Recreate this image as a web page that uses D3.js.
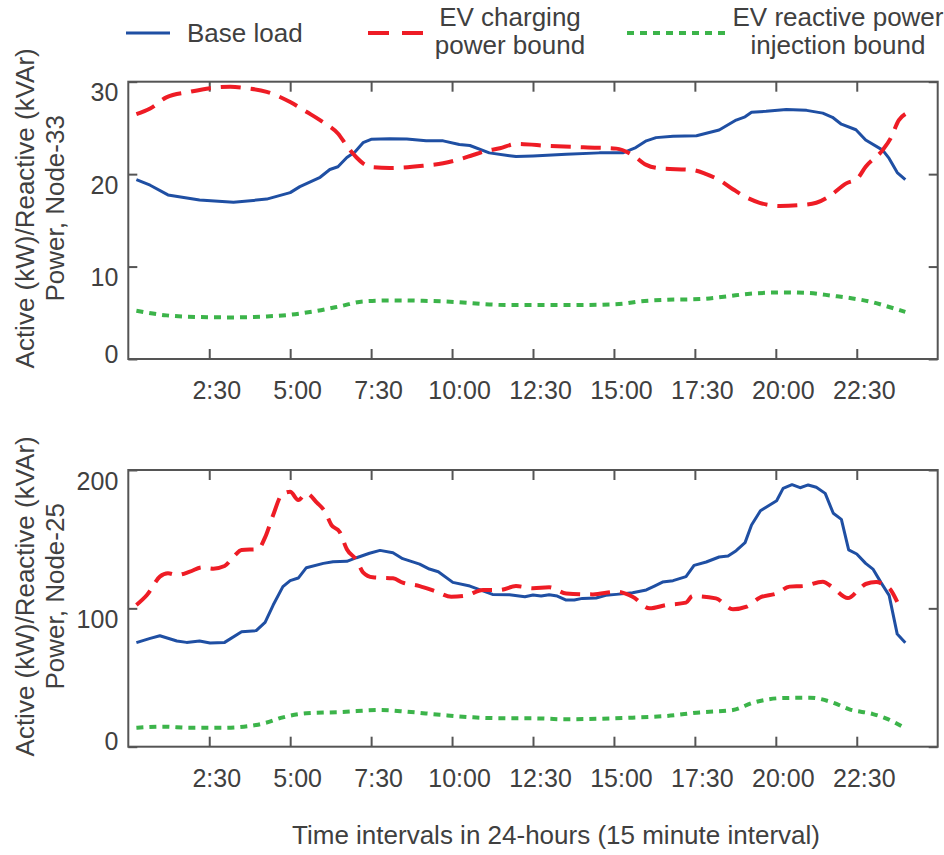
<!DOCTYPE html>
<html>
<head>
<meta charset="utf-8">
<script src="https://cdn.jsdelivr.net/npm/d3@7"></script>
<style>
  body { margin: 0; background: #fff; }
  svg { display: block; font-family: "Liberation Sans", Arial, sans-serif; }
  .tick line { stroke: #555; stroke-width: 2; }
  .tick text { fill: #404040; font-size: 25px; }
</style>
</head>
<body>
<svg id="chart" width="944" height="855"></svg>
<script>
// time axis: 15-minute interval index (1..96)
const xTickValues = [10, 20, 30, 40, 50, 60, 70, 80, 90];
const xTickLabels = ['2:30', '5:00', '7:30', '10:00', '12:30', '15:00', '17:30', '20:00', '22:30'];

const legendLabels = [['Base load'], ['EV charging', 'power bound'], ['EV reactive power', 'injection bound']];

// Node-33 (top panel), [interval, value]
const node33Base = [[1, 19.4], [2.7, 18.8], [4.9, 17.75], [8.8, 17.2], [13, 16.95], [17.1, 17.3], [20, 18.0],
  [21.2, 18.65], [23.7, 19.66], [24.9, 20.5], [25.9, 20.8], [27, 21.8], [28, 22.4], [29, 23.4], [30, 23.77],
  [32.3, 23.84], [34.4, 23.8], [36.8, 23.6], [38.9, 23.6], [40.9, 23.2], [42.2, 23.1], [44.6, 22.3], [47.1, 22.0],
  [47.9, 21.9], [50, 21.97], [54.1, 22.15], [58.2, 22.3], [61.1, 22.3], [62.7, 22.87], [64, 23.6], [65.2, 23.95],
  [67.3, 24.1], [70.2, 24.16], [73, 24.77], [75.1, 25.85], [76.2, 26.2], [77, 26.7], [78.8, 26.8], [81.3, 27.0],
  [83.8, 26.9], [85.8, 26.6], [87, 26.15], [88.1, 25.4], [89.9, 24.8], [91.1, 23.7], [93.2, 22.6], [94, 21.7],
  [95, 20.17], [96, 19.4]];
const node33Charging = [[1, 26.5], [2.7, 27.1], [4.7, 28.3], [7.6, 28.9], [10.1, 29.3], [12.6, 29.45], [14.6, 29.3],
  [17.1, 28.9], [20, 27.8], [22, 26.75], [24.1, 25.6], [25.9, 24.4], [27.2, 22.8], [28.2, 21.8], [29, 21.17],
  [30.2, 20.74], [32.3, 20.67], [36.4, 20.9], [38.9, 21.17], [40.9, 21.6], [42.6, 22.07], [44.2, 22.5], [45.9, 22.8],
  [47.9, 23.26], [52, 23.05], [56.2, 22.9], [60.3, 22.76], [62.3, 22.07], [64, 21.0], [65.6, 20.63], [69.7, 20.45],
  [71.4, 20.0], [73, 19.37], [74.7, 18.37], [76.4, 17.47], [78, 16.9], [80.5, 16.56], [82.9, 16.64], [85, 16.9],
  [86.6, 17.6], [88.7, 19.0], [90.1, 19.55], [91.1, 20.8], [93.2, 22.6], [94.2, 23.9], [95.2, 25.85], [96, 26.5]];
const node33Reactive = [[1, 5.22], [4.7, 4.72], [8.8, 4.54], [12.9, 4.5], [17.1, 4.6], [20, 4.79], [23.2, 5.19],
  [26.1, 5.69], [29, 6.23], [32.3, 6.34], [36.4, 6.3], [40.5, 6.16], [44.6, 5.9], [47.1, 5.83], [50, 5.83],
  [54.1, 5.83], [58.2, 5.87], [61.1, 5.98], [63.2, 6.23], [66.5, 6.4], [70.6, 6.48], [73.9, 6.77], [76.8, 7.06],
  [80.9, 7.2], [84.2, 7.13], [87, 6.84], [89.5, 6.55], [91.9, 6.16], [93.5, 5.76], [95.4, 5.26], [96, 5.1]];

// Node-25 (bottom panel)
const node25Base = [[1, 75.2], [2.7, 78.3], [3.9, 80.2], [6, 76.4], [7.2, 75.4], [8.8, 76.4], [10.1, 74.9],
  [11.9, 75.4], [14, 83.1], [15.8, 83.9], [16.9, 89.9], [17.9, 102.4], [19.1, 115.7], [20, 120], [21, 121.9],
  [22, 129.4], [24.1, 132.5], [25.3, 133.7], [27, 134], [28.2, 136.6], [29.8, 139.8], [31.1, 141.9], [32.7, 140.2],
  [33.9, 135.9], [36, 132], [37.2, 128.4], [38.3, 126.5], [40.1, 118.8], [42.2, 116.1], [45, 110.1], [47.1, 109.9],
  [49, 108.4], [50, 109.6], [51, 108.9], [52, 109.9], [53, 108.9], [54.1, 106], [55.1, 106], [56.1, 107.2],
  [57.8, 107.5], [59, 109.4], [60.3, 110.1], [62.3, 111.3], [64, 113.3], [65, 116.1], [66, 119], [67.3, 120],
  [68.9, 122.9], [69.9, 131.1], [71.4, 133.5], [73, 137.1], [74.1, 137.8], [75.1, 141.7], [76.2, 147.5],
  [77, 160.2], [78.1, 170.6], [78.9, 173.5], [80.1, 177.8], [80.9, 186.7], [82, 189.4], [83, 187.2], [84, 189.2],
  [85, 187.5], [86.1, 183.1], [87.1, 168.7], [88.1, 164.3], [89, 142.2], [90, 139.3], [91.1, 132.5], [92, 128.4],
  [93, 118.6], [94, 109.4], [95, 81.4], [96, 75.2]];
const node25Charging = [[1, 102.4], [2.3, 109.6], [3.9, 122.9], [4.9, 125.3], [6, 124.1], [7.6, 126.5], [9.1, 129.6],
  [10.5, 128.7], [11.9, 130.6], [13, 137.3], [14, 142.2], [16, 142.7], [16.9, 151.3], [17.9, 167.5], [19, 182.4],
  [20, 184.3], [21, 178.3], [22, 183.1], [23.3, 176.4], [24.3, 169.9], [25.1, 160.2], [26.1, 155.4], [27, 142.7],
  [28.2, 134.9], [29, 126], [30.2, 122.4], [32.7, 121.7], [33.9, 118.6], [36, 116.1], [38.1, 112], [39.9, 108.4],
  [41.7, 109.2], [43.8, 113.3], [45.9, 113.3], [47.9, 116.1], [50, 114.5], [52, 115.2], [54.1, 110.8], [57.4, 110.1],
  [60.3, 112], [62.3, 108.4], [64.4, 100], [66.5, 102.4], [68.9, 104.1], [69.7, 108.9], [72.6, 107.2], [74.7, 99.3],
  [76.4, 101.2], [78, 107.7], [80.1, 110.8], [81.7, 115.7], [83.4, 116.1], [85.8, 119.3], [87, 115.2], [88.9, 107.4],
  [90.4, 114.5], [91.1, 117.6], [92.4, 119], [93.4, 116.9], [94.2, 113.3], [95, 104.7]];
const node25Reactive = [[1, 13.7], [4.3, 14.5], [7.6, 13.7], [11.7, 13.7], [15.8, 15.7], [17, 17.3], [19.1, 21.2],
  [22, 24.1], [26.5, 25.1], [31.1, 26.5], [34.4, 25.3], [38.5, 23.1], [42.6, 21.2], [47.1, 20.5], [50, 20.5],
  [54.1, 19.8], [58.2, 20.2], [62.3, 21], [66.5, 22.2], [70.6, 24.8], [74.7, 26.5], [77.2, 31.8], [80.9, 35.2],
  [84.2, 35.4], [87, 32], [89.1, 27], [92, 23.6], [93.6, 20.5], [95.9, 13.7]];

const styles = [
  { color: '#1f4fa3', width: 3, dash: null, curve: d3.curveLinear },
  { color: '#ee1c25', width: 4, dash: '20,10', curve: d3.curveMonotoneX },
  { color: '#3cb44a', width: 4, dash: '7,6', curve: d3.curveMonotoneX },
];

const svg = d3.select('#chart');
const textColor = '#404040';
const left = 128.3;
const right = 937.7;
const x = d3.scaleLinear().domain([0, 100]).range([left, right]);

const drawPanel = ({ top, bottom, yTicks, series, node }) => {
  const y = d3.scaleLinear().domain(d3.extent(yTicks)).range([bottom, top]);
  const g = svg.append('g');

  g.append('g')
    .attr('transform', `translate(0, ${bottom})`)
    .call(d3.axisBottom(x).tickValues(xTickValues).tickSizeInner(-10).tickSizeOuter(0)
      .tickFormat((d, i) => xTickLabels[i]))
    .call(a => a.select('.domain').remove())
    .call(a => a.selectAll('text').attr('y', 40).attr('dy', 0).attr('dx', 7));

  g.append('g')
    .attr('transform', `translate(0, ${top})`)
    .call(d3.axisTop(x).tickValues(xTickValues).tickSizeInner(-10).tickSizeOuter(0).tickFormat(''))
    .call(a => a.select('.domain').remove());

  g.append('g')
    .attr('transform', `translate(${left}, 0)`)
    .call(d3.axisLeft(y).tickValues(yTicks).tickSizeInner(-9).tickSizeOuter(0))
    .call(a => a.select('.domain').remove())
    .call(a => a.selectAll('text')
      .attr('x', -10).attr('dy', 0)
      .attr('y', d => (d === 0 ? 3 : 19)));

  g.append('g')
    .attr('transform', `translate(${right}, 0)`)
    .call(d3.axisRight(y).tickValues(yTicks).tickSizeInner(-9).tickSizeOuter(0).tickFormat(''))
    .call(a => a.select('.domain').remove());

  series.forEach((data, k) => {
    const s = styles[k];
    g.append('path')
      .datum(data)
      .attr('fill', 'none')
      .attr('stroke', s.color)
      .attr('stroke-width', s.width)
      .attr('stroke-dasharray', s.dash)
      .attr('stroke-linejoin', 'round')
      .attr('d', d3.line().x(d => x(d[0])).y(d => y(d[1])).curve(s.curve));
  });

  g.append('rect')
    .attr('x', left).attr('y', top)
    .attr('width', right - left).attr('height', bottom - top)
    .attr('fill', 'none').attr('stroke', '#555').attr('stroke-width', 2);

  const cy = (top + bottom) / 2 - 12;
  const label = g.append('text')
    .attr('transform', `translate(0, ${cy}) rotate(-90)`)
    .attr('text-anchor', 'middle')
    .attr('fill', textColor)
    .attr('font-size', 26);
  label.append('tspan').attr('x', 0).attr('y', 33.5).text('Active (kW)/Reactive (kVAr)');
  label.append('tspan').attr('x', 0).attr('y', 64).text(`Power, Node-${node}`);
};

drawPanel({ top: 81.7, bottom: 359, yTicks: [0, 10, 20, 30],
  series: [node33Base, node33Charging, node33Reactive], node: 33 });
drawPanel({ top: 470, bottom: 746.7, yTicks: [0, 100, 200],
  series: [node25Base, node25Charging, node25Reactive], node: 25 });

svg.append('text')
  .attr('x', 556).attr('y', 844)
  .attr('text-anchor', 'middle')
  .attr('fill', textColor)
  .attr('font-size', 26)
  .text('Time intervals in 24-hours (15 minute interval)');

// legend
const legendItems = [
  { x1: 126, x2: 170, textX: 187, anchor: 'start' },
  { x1: 368, x2: 423, textX: 510, anchor: 'middle' },
  { x1: 627, x2: 730, textX: 838, anchor: 'middle' },
];
legendItems.forEach((item, k) => {
  const s = styles[k];
  svg.append('line')
    .attr('x1', item.x1).attr('x2', item.x2).attr('y1', 33).attr('y2', 33)
    .attr('stroke', s.color).attr('stroke-width', s.width)
    .attr('stroke-dasharray', k === 1 ? '21,13' : s.dash);
  const lines = legendLabels[k];
  const t = svg.append('text')
    .attr('text-anchor', item.anchor)
    .attr('fill', textColor)
    .attr('font-size', 26);
  lines.forEach((line, j) => {
    t.append('tspan')
      .attr('x', item.textX)
      .attr('y', lines.length === 1 ? 41.5 : 25.5 + j * 28)
      .text(line);
  });
});
</script>
</body>
</html>
